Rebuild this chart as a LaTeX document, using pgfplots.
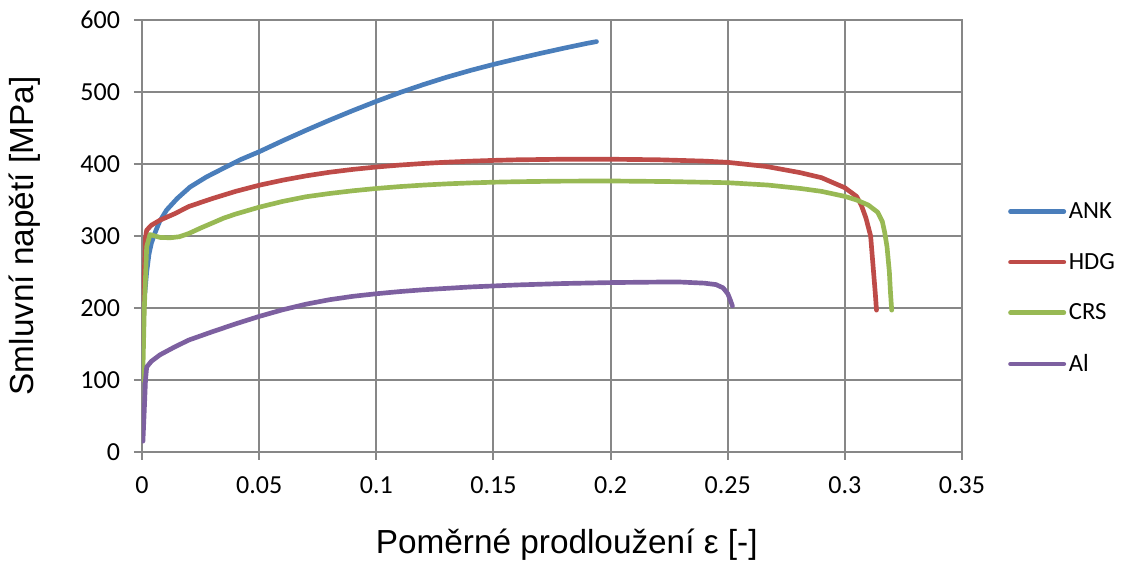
\documentclass[border=0pt]{standalone}
\usepackage{pgfplots}
\pgfplotsset{compat=1.18}
\usepackage{fontspec}
\setmainfont{Liberation Sans}
\newfontfamily\carlito{Carlito}
\definecolor{cANK}{HTML}{4A7EBB}
\definecolor{cHDG}{HTML}{BE4B48}
\definecolor{cCRS}{HTML}{98B954}
\definecolor{cAl}{HTML}{7D60A0}
\definecolor{gridgray}{HTML}{878787}
\begin{document}
\begin{tikzpicture}
\begin{axis}[
  name=ax, at={(0,0)}, anchor=south west,
  scale only axis, width=615pt, height=324pt,
  xmin=0, xmax=0.35, ymin=0, ymax=600,
  xtick={0,0.05,...,0.35}, ytick={0,100,...,600},
  xticklabels={0,0.05,0.1,0.15,0.2,0.25,0.3,0.35},
  grid=major,
  major grid style={gridgray, line width=1.4pt},
  axis line style={gridgray, line width=1.4pt},
  tick style={gridgray, line width=1.4pt},
  tick align=outside, major tick length=6pt,
  xtick pos=bottom, ytick pos=left,
  /pgf/number format/assume math mode=true,
  ticklabel style={font=\carlito\fontsize{19.5}{19.5}\selectfont},
  xticklabel style={yshift=-9pt},
  yticklabel style={xshift=-7pt},
  xlabel={Poměrné prodloužení ε [-]},
  ylabel={Smluvní napětí [MPa]},
  label style={font=\fontsize{25}{25}\selectfont},
  xlabel style={at={(axis description cs:0.518,-0.215)}, anchor=center},
  ylabel style={at={(axis description cs:-0.1427,0.5)}, anchor=center},
  legend style={at={(axis description cs:1.056,0.584)}, anchor=north west,
    draw=none, fill=none, font=\carlito\fontsize{18.5}{18.5}\selectfont,
    row sep=20.5pt, inner sep=0pt, cells={anchor=west}},
  legend image code/.code={\draw[#1, line width=3.5pt, line cap=round] (0pt,0pt) -- (40pt,0pt);},
  every axis plot/.append style={line width=3.5pt, line join=round, line cap=round},
]
\addplot[cANK] coordinates {
(0.0012,220) (0.002,250) (0.003,275) (0.004,290) (0.0055,304) (0.0075,320)
(0.0105,336) (0.015,352) (0.0205,368) (0.0275,382) (0.0347,394) (0.042,406)
(0.05,417) (0.06,432.2) (0.07,446.8) (0.08,460.8) (0.09,474.2) (0.1,487)
(0.11,499.1) (0.12,510.2) (0.13,520.5) (0.14,529.8) (0.15,538.3) (0.16,546.1)
(0.17,553.6) (0.18,560.8) (0.19,567.6) (0.194,570)};
\addlegendentry{ANK}
\addplot[cHDG] coordinates {
(0.0005,150) (0.001,250) (0.0015,298) (0.002,308) (0.004,315) (0.0077,322)
(0.014,331) (0.02,341) (0.03,352) (0.04,362) (0.05,370.5) (0.06,377.5)
(0.07,383.5) (0.08,388.5) (0.09,392.5) (0.1,395.8) (0.11,398.5) (0.12,400.7)
(0.13,402.5) (0.14,403.9) (0.15,405) (0.16,405.8) (0.18,406.6) (0.2,406.6)
(0.22,405.9) (0.24,404) (0.25,402.3) (0.2666,396.5) (0.2809,388)
(0.29,381) (0.30,367) (0.305,355) (0.307,343) (0.309,325) (0.311,300)
(0.312,260) (0.313,220) (0.3135,197)};
\addlegendentry{HDG}
\addplot[cCRS] coordinates {
(0.0003,100) (0.001,200) (0.002,285) (0.0034,302) (0.0077,298) (0.012,297.5)
(0.016,299) (0.02,303.5) (0.025,311) (0.03,318) (0.035,325) (0.04,330.5)
(0.05,340) (0.06,348) (0.07,354.5) (0.08,359) (0.09,362.8) (0.1,366)
(0.11,368.6) (0.12,370.7) (0.13,372.4) (0.14,373.7) (0.15,374.7) (0.16,375.4)
(0.18,376.2) (0.2,376.4) (0.225,375.6) (0.25,374) (0.267,370.8) (0.281,366)
(0.29,362) (0.30,355) (0.305,350) (0.31,343) (0.314,333)
(0.316,320) (0.317,305) (0.318,285) (0.319,250) (0.3195,220) (0.320,197)};
\addlegendentry{CRS}
\addplot[cAl] coordinates {
(0.0004,15) (0.001,60) (0.0015,100) (0.002,118) (0.004,126) (0.0077,135)
(0.014,146) (0.02,155.5) (0.03,167) (0.04,178) (0.05,188.3) (0.06,197.5)
(0.07,205.3) (0.08,211.5) (0.09,216.2) (0.1,219.8) (0.11,222.8) (0.12,225.3)
(0.14,229.2) (0.16,232) (0.18,234) (0.2,235.3) (0.22,236) (0.23,236)
(0.24,234.5) (0.245,232.5) (0.248,228) (0.25,220) (0.251,212) (0.252,203)};
\addlegendentry{Al}
\end{axis}
\pgfresetboundingbox
\path[use as bounding box] ([xshift=-106.5pt,yshift=-82.5pt]ax.south west) rectangle ([xshift=120pt,yshift=15pt]ax.north east);
\end{tikzpicture}
\end{document}
